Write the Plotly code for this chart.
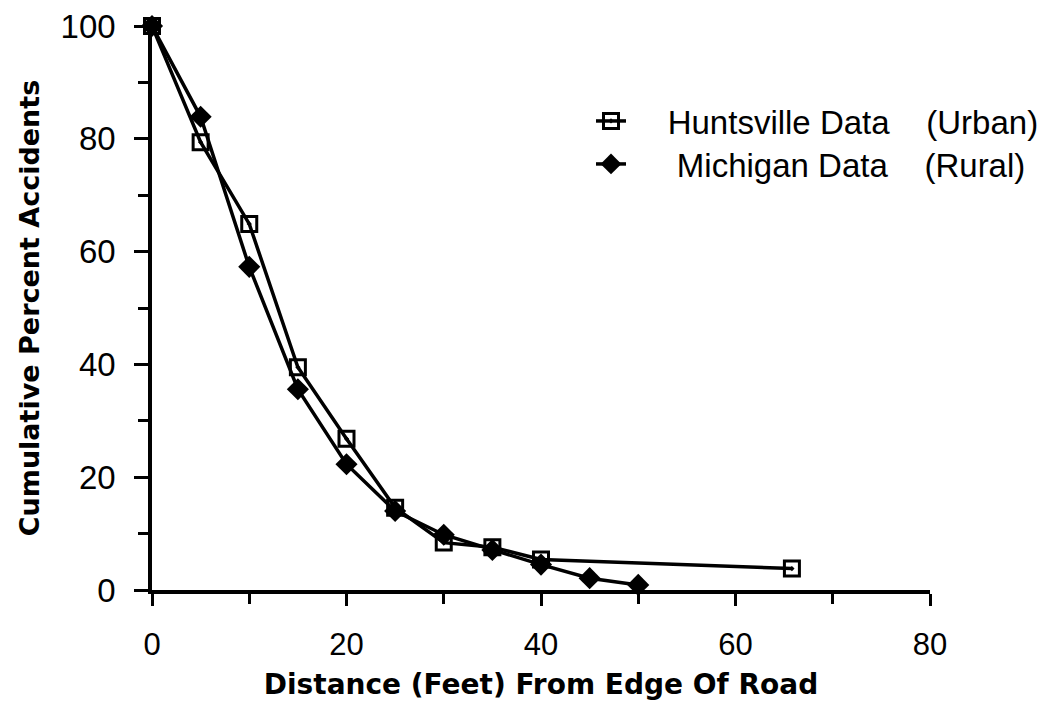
import plotly.graph_objects as go

hunts_x = [0, 5, 10, 15, 20, 25, 30, 35, 40, 65.8]
hunts_y = [100, 79.4, 64.9, 39.5, 26.8, 14.6, 8.4, 7.6, 5.4, 3.8]
mich_x = [0, 5, 10, 15, 20, 25, 30, 35, 40, 45, 50]
mich_y = [100, 83.9, 57.3, 35.6, 22.3, 14.0, 9.8, 7.1, 4.5, 2.1, 0.9]

nb = "\u00a0"
hunts_name = nb * 4 + "Huntsville Data" + nb * 4 + "(Urban)"
mich_name = nb * 5 + "Michigan Data" + nb * 4 + "(Rural)"

fig = go.Figure()
fig.add_trace(go.Scatter(
    x=hunts_x, y=hunts_y, mode="lines+markers", name=hunts_name,
    line=dict(color="black", width=3.5),
    marker=dict(symbol="square-open-dot", size=15, color="black", line=dict(width=3, color="black")),
    cliponaxis=False, legend="legend"))
fig.add_trace(go.Scatter(
    x=mich_x, y=mich_y, mode="lines+markers", name=mich_name,
    line=dict(color="black", width=3.5),
    marker=dict(symbol="diamond", size=17, color="black"),
    cliponaxis=False, legend="legend2"))

font_family = "Liberation Sans, Arial, sans-serif"
title_font = "DejaVu Sans, sans-serif"
fig.update_layout(
    width=1042, height=703,
    margin=dict(l=152, r=112, t=26, b=113, autoexpand=False),
    paper_bgcolor="white", plot_bgcolor="white",
    font=dict(family=font_family, color="black", size=30),
    showlegend=True,
    legend=dict(x=(591 - 152) / 778, y=(590 - 121) / 564, xanchor="left", yanchor="middle",
                font=dict(size=33, family=font_family), bgcolor="rgba(0,0,0,0)"),
    legend2=dict(x=(591 - 152) / 778, y=(590 - 164) / 564, xanchor="left", yanchor="middle",
                 font=dict(size=33, family=font_family), bgcolor="rgba(0,0,0,0)"),
    xaxis=dict(range=[0, 80], tick0=0, dtick=20, ticks="outside", ticklen=12, tickwidth=2.5,
               tickcolor="black", showline=True, linecolor="black", linewidth=3.5,
               showgrid=False, zeroline=False, ticklabelstandoff=12, automargin=False,
               tickfont=dict(size=31, family=font_family),
               minor=dict(dtick=10, ticks="outside", ticklen=10, tickwidth=2.5, tickcolor="black"),
               title=dict(text="<b>Distance (Feet) From Edge Of Road</b>",
                          font=dict(size=28, family=title_font),
                          standoff=14)),
    yaxis=dict(range=[0, 100], tick0=0, dtick=20, ticks="outside", ticklen=14, tickwidth=2.5,
               tickcolor="black", showline=True, linecolor="black", linewidth=3.5,
               showgrid=False, zeroline=False, ticklabelstandoff=12, automargin=False,
               tickfont=dict(size=33, family=font_family),
               minor=dict(dtick=10, ticks="outside", ticklen=10, tickwidth=2.5, tickcolor="black"),
               title=dict(text="<b>Cumulative Percent Accidents</b>",
                          font=dict(size=27, family=title_font),
                          standoff=14)),
)
fig.write_html("out.html")
